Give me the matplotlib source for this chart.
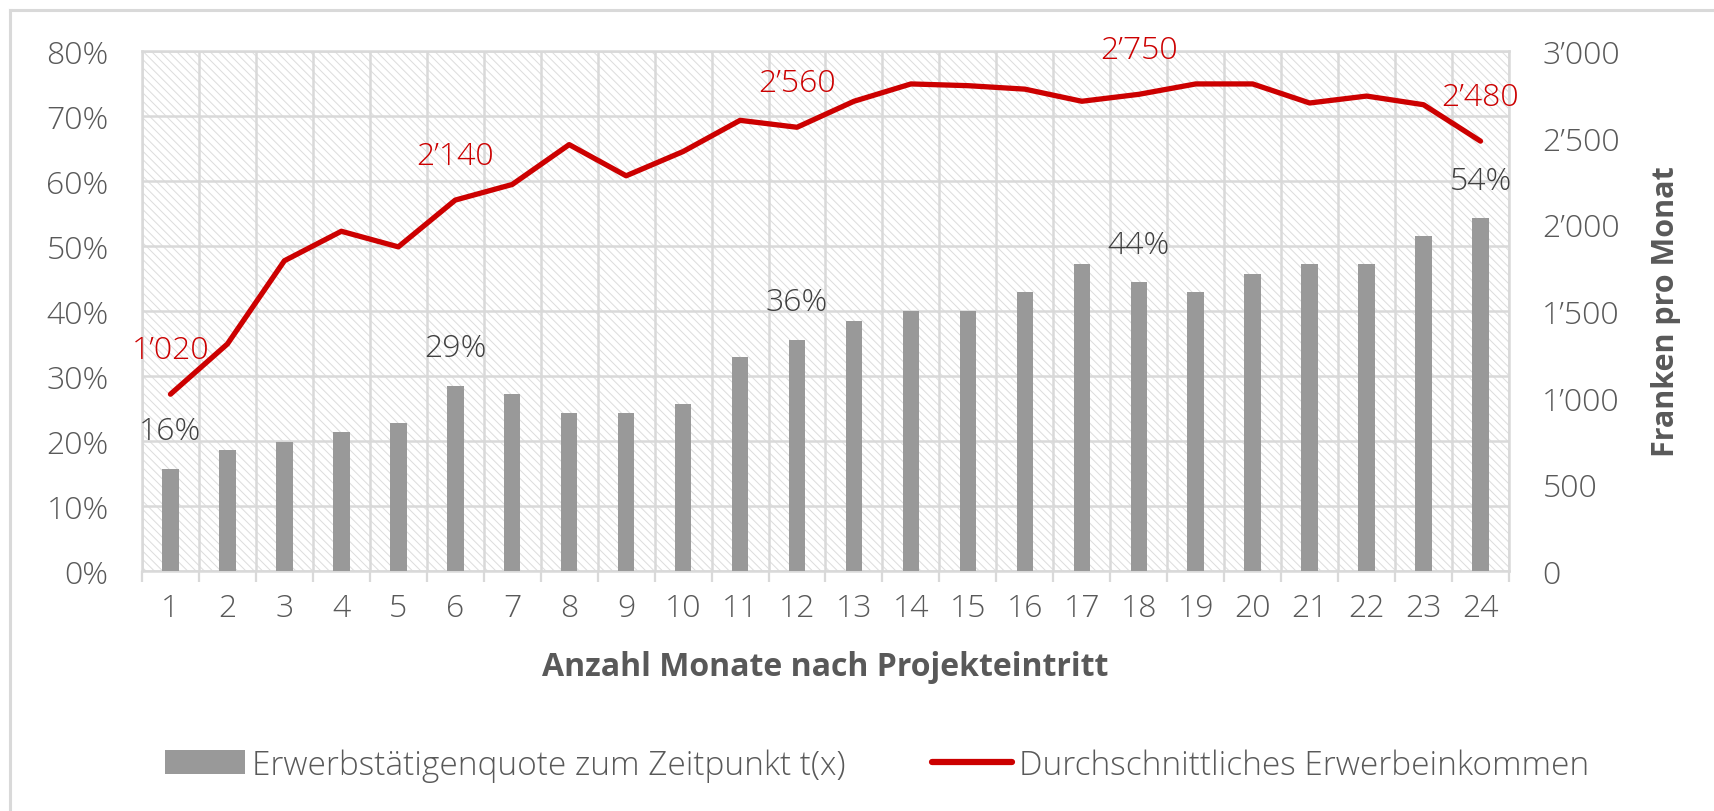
import matplotlib
matplotlib.use('Agg')
import matplotlib.pyplot as plt
from matplotlib.ticker import FixedLocator, FuncFormatter
from matplotlib.lines import Line2D
from matplotlib.patches import Patch

# data
months = list(range(1, 25))
quote = [15.7, 18.6, 19.9, 21.4, 22.8, 28.5, 27.2, 24.3, 24.3, 25.7, 32.9, 35.6,
         38.5, 40.0, 40.0, 42.9, 47.3, 44.4, 42.9, 45.7, 47.3, 47.3, 51.6, 54.3]
income = [1020, 1310, 1790, 1960, 1870, 2140, 2230, 2460, 2280, 2420, 2600, 2560,
          2710, 2810, 2800, 2780, 2710, 2750, 2810, 2810, 2700, 2740, 2690, 2480]
quote_labels = {1: '16%', 6: '29%', 12: '36%', 18: '44%', 24: '54%'}
income_labels = {1: "1\u2019020", 6: "2\u2019140", 12: "2\u2019560", 18: "2\u2019750", 24: "2\u2019480"}

bar_color = '#999999'
line_color = '#CC0000'
grid_color = '#D9D9D9'
text_color = '#595959'

plt.rcParams['font.family'] = ['Open Sans', 'DejaVu Sans']
plt.rcParams['hatch.color'] = '#DCDCDC'
plt.rcParams['hatch.linewidth'] = 0.7

fig = plt.figure(figsize=(17.15, 8.12), dpi=100)
# outer chart border (left and top only visible)
fig.add_artist(Line2D([10 / 1715, 10 / 1715], [0, 1 - 11 / 812], color=grid_color, lw=2.2,
                      transform=fig.transFigure))
fig.add_artist(Line2D([10 / 1715, 1], [1 - 11 / 812, 1 - 11 / 812], color=grid_color, lw=2.2,
                      transform=fig.transFigure))

ax = fig.add_axes([142 / 1715, 1 - 572 / 812, (1509 - 142) / 1715, (572 - 52) / 812])
ax.patch.set_facecolor('white')
ax.patch.set_hatch('\\\\\\\\')
ax.patch.set_edgecolor('#DCDCDC')

ax.bar(months, quote, width=0.29, color=bar_color, zorder=3)
ax.set_xlim(0.5, 24.5)
ax.set_ylim(0, 80)
ax.set_yticks(range(0, 81, 10))
ax.yaxis.set_major_formatter(FuncFormatter(lambda v, p: f'{int(v)}%'))
ax.set_xticks(months)
ax.xaxis.set_minor_locator(FixedLocator([m + 0.5 for m in range(0, 25)]))
ax.tick_params(axis='x', which='major', length=0, pad=15, labelsize=23, labelcolor=text_color)
ax.tick_params(axis='x', which='minor', length=8, width=1.6, color=grid_color)
ax.tick_params(axis='y', length=0, pad=24, labelsize=23, labelcolor=text_color)
for lab in ax.get_xticklabels() + ax.get_yticklabels():
    lab.set_fontweight('light')
ax.grid(True, axis='y', color=grid_color, lw=1.8, zorder=1)
ax.grid(True, axis='x', which='minor', color=grid_color, lw=1.8, zorder=1)
ax.set_axisbelow(True)
for s in ax.spines.values():
    s.set_color(grid_color)
    s.set_linewidth(1.8)

for m, lab in quote_labels.items():
    ax.annotate(lab, (m, quote[m - 1]), xytext=(0, 27), textcoords='offset points',
                ha='center', va='center', fontsize=23, fontweight='light',
                color='#404040', zorder=5)

ax.set_xlabel('Anzahl Monate nach Projekteintritt', fontsize=23, fontweight='bold',
              color=text_color, labelpad=19)

ax2 = ax.twinx()
ax2.plot(months, income, color=line_color, lw=3.8, solid_capstyle='round',
         solid_joinstyle='round', zorder=4)
ax2.set_ylim(0, 3000)
ax2.set_yticks(range(0, 3001, 500))
ax2.yaxis.set_major_formatter(FuncFormatter(
    lambda v, p: f'{int(v):,}'.replace(',', '\u2019')))
ax2.tick_params(axis='y', length=0, pad=24, labelsize=23, labelcolor=text_color)
for lab in ax2.get_yticklabels():
    lab.set_fontweight('light')
for s in ax2.spines.values():
    s.set_visible(False)
ax2.set_ylabel('Franken pro Monat', fontsize=22, fontweight='bold', color=text_color,
               labelpad=22)

for m, lab in income_labels.items():
    ax2.annotate(lab, (m, income[m - 1]), xytext=(0, 32), textcoords='offset points',
                 ha='center', va='center', fontsize=23, fontweight='light',
                 color=line_color, zorder=5)

handles = [Patch(facecolor=bar_color, edgecolor='none'),
           Line2D([0], [0], color=line_color, lw=4.5, solid_capstyle='round')]
fig.legend(handles, ['Erwerbstätigenquote zum Zeitpunkt t(x)', 'Durchschnittliches Erwerbeinkommen'],
           loc='center', bbox_to_anchor=(877 / 1715, 1 - 766 / 812), ncol=2, frameon=False,
           labelcolor=text_color, handlelength=2.4, handletextpad=0.2,
           columnspacing=2.6, prop={'weight': 'light', 'size': 24})

fig.savefig('out.png', dpi=100)
